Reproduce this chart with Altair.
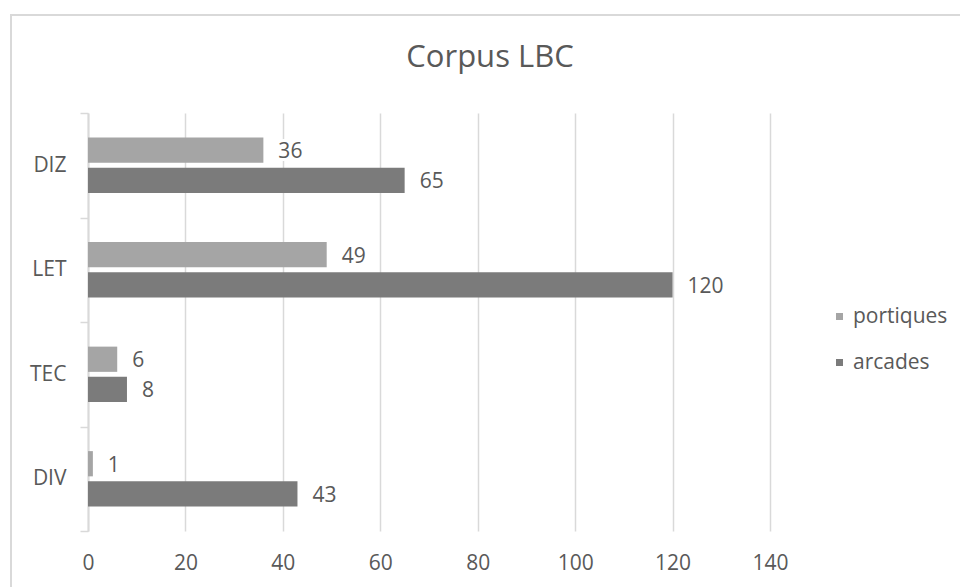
import altair as alt
import pandas as pd

# Corpus LBC: counts of portiques and arcades by text category
categories = ["DIZ", "LET", "TEC", "DIV"]
series = ["portiques", "arcades"]
portiques = [36, 49, 6, 1]
arcades = [65, 120, 8, 43]
x_ticks = [0, 20, 40, 60, 80, 100, 120, 140]

rows = []
for cat, p, a in zip(categories, portiques, arcades):
    rows.append({"categorie": cat, "serie": "portiques", "valeur": p})
    rows.append({"categorie": cat, "serie": "arcades", "valeur": a})
df = pd.DataFrame(rows)

FONT = "Open Sans"
TEXT = "#595959"
GRID = "#d9d9d9"
COLORS = ["#a5a5a5", "#7b7b7b"]
FS = 21

y_enc = alt.Y(
    "categorie:N",
    sort=categories,
    title=None,
    scale=alt.Scale(paddingInner=0, paddingOuter=0),
    axis=alt.Axis(
        tickBand="extent",
        tickSize=8,
        tickWidth=1.5,
        tickColor=GRID,
        domainColor=GRID,
        domainWidth=2,
        labelPadding=14,
        labelFontSize=FS,
        labelColor=TEXT,
        labelFont=FONT,
        grid=False,
    ),
)
y_off = alt.YOffset(
    "serie:N",
    sort=series,
    scale=alt.Scale(paddingInner=0.16, paddingOuter=0.82),
)
x_enc = alt.X(
    "valeur:Q",
    title=None,
    scale=alt.Scale(domain=[0, 140], nice=False),
    axis=alt.Axis(
        values=x_ticks,
        domain=False,
        ticks=False,
        labelFlush=False,
        labelPadding=21,
        labelFontSize=FS,
        labelColor=TEXT,
        labelFont=FONT,
        grid=True,
        gridColor=GRID,
        gridWidth=1.5,
    ),
)

base = alt.Chart(df)

bars = base.mark_bar().encode(
    x=x_enc,
    y=y_enc,
    yOffset=y_off,
    color=alt.Color(
        "serie:N",
        sort=series,
        title=None,
        scale=alt.Scale(domain=series, range=COLORS),
        legend=alt.Legend(
            orient="none",
            legendX=741,
            legendY=193,
            symbolType="square",
            symbolSize=49,
            symbolStrokeWidth=0,
            labelFontSize=FS,
            labelColor=TEXT,
            labelFont=FONT,
            labelOffset=3,
            rowPadding=24,
            padding=0,
        ),
    ),
)

# white halo under the value labels so gridlines break around them
halo = base.mark_text(
    align="left", baseline="middle", dx=15, dy=2,
    fontSize=FS, font=FONT, stroke="white", strokeWidth=6, color="white",
).encode(x="valeur:Q", y=alt.Y("categorie:N", sort=categories), yOffset=y_off, text="valeur:Q")

labels = base.mark_text(
    align="left", baseline="middle", dx=15, dy=2,
    fontSize=FS, font=FONT, color=TEXT,
).encode(x="valeur:Q", y=alt.Y("categorie:N", sort=categories), yOffset=y_off, text="valeur:Q")

# outer frame of the chart area
frame_df = pd.DataFrame({"k": [0]})
frame_top = alt.Chart(frame_df).mark_rule(color=GRID, strokeWidth=2).encode(
    x=alt.value(-78), x2=alt.value(900), y=alt.value(-98)
)
frame_left = alt.Chart(frame_df).mark_rule(color=GRID, strokeWidth=2).encode(
    x=alt.value(-77), y=alt.value(-99), y2=alt.value(480)
)

chart = (
    alt.layer(frame_top, frame_left, bars, halo, labels)
    .properties(
        width=682,
        height=418,
        title=alt.TitleParams(
            "Corpus LBC",
            anchor="middle",
            dx=61,
            offset=-85,
            baseline="alphabetic",
            fontSize=31,
            font=FONT,
            fontWeight="normal",
            color=TEXT,
        ),
        autosize=alt.AutoSizeParams(type="none"),
        padding={"left": 88, "top": 113, "right": 190, "bottom": 56},
        background="white",
    )
    .configure_view(stroke=None)
)

chart.save("out.html", embed_options={"renderer": "svg", "actions": False})
